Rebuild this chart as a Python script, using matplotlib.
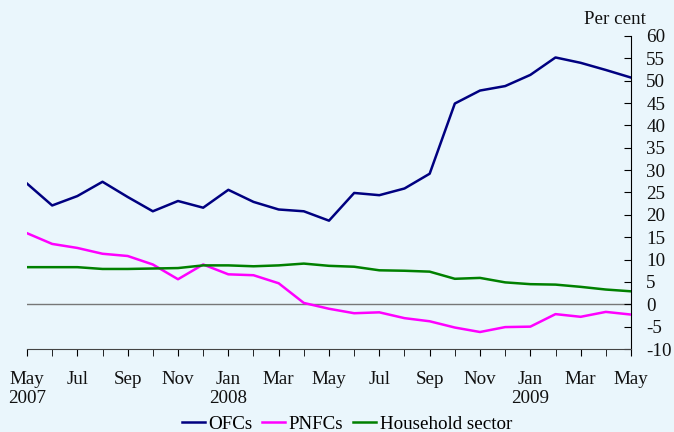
import matplotlib
matplotlib.use("Agg")
import matplotlib.pyplot as plt
import numpy as np

months = ["May", "Jun", "Jul", "Aug", "Sep", "Oct", "Nov", "Dec", "Jan", "Feb", "Mar", "Apr",
          "May", "Jun", "Jul", "Aug", "Sep", "Oct", "Nov", "Dec", "Jan", "Feb", "Mar", "Apr", "May"]
tick_labels = ["May\n2007", "Jul", "Sep", "Nov", "Jan\n2008", "Mar", "May", "Jul", "Sep",
               "Nov", "Jan\n2009", "Mar", "May"]

ofcs = [27.0, 22.1, 24.2, 27.4, 24.0, 20.8, 23.1, 21.6, 25.6, 22.9, 21.2, 20.8, 18.7,
        24.9, 24.4, 25.9, 29.2, 44.9, 47.8, 48.8, 51.3, 55.2, 54.0, 52.4, 50.7]
pnfcs = [15.9, 13.5, 12.6, 11.3, 10.8, 8.9, 5.6, 8.9, 6.7, 6.5, 4.7, 0.3, -1.0,
         -2.0, -1.8, -3.1, -3.8, -5.2, -6.2, -5.1, -5.0, -2.2, -2.8, -1.7, -2.3]
household = [8.3, 8.3, 8.3, 7.9, 7.9, 8.0, 8.1, 8.7, 8.7, 8.5, 8.7, 9.1, 8.6,
             8.4, 7.6, 7.5, 7.3, 5.7, 5.9, 4.9, 4.5, 4.4, 3.9, 3.3, 2.9]

bg = "#EAF6FC"
fs = 13.7
plt.rcParams["font.family"] = ["Liberation Serif", "DejaVu Serif"]
plt.rcParams["font.size"] = fs
plt.rcParams["axes.unicode_minus"] = False

fig = plt.figure(figsize=(6.74, 4.32), dpi=100, facecolor=bg)
ax = fig.add_axes([27/674, 1-349/432, (631-27)/674, (349-36)/432])
ax.set_facecolor(bg)

x = np.arange(len(months))
ax.axhline(0, color="#777777", lw=1.0, zorder=1)
ax.plot(x, ofcs, color="#000080", lw=1.8, label="OFCs", zorder=3)
ax.plot(x, pnfcs, color="#FF00FF", lw=1.8, label="PNFCs", zorder=3)
ax.plot(x, household, color="#008000", lw=1.8, label="Household sector", zorder=3)

ax.set_xlim(0, len(months) - 1)
ax.set_ylim(-10, 60)
ax.set_yticks(np.arange(-10, 61, 5))
ax.yaxis.tick_right()
ax.tick_params(axis="y", direction="in", length=5, pad=11, colors="black", labelcolor="#111111")
ax.set_xticks(x[::2])
ax.set_xticklabels(tick_labels, linespacing=1.1)
ax.set_xticks(x, minor=True)
ax.tick_params(axis="x", which="both", direction="out", length=5, pad=11, labelcolor="#111111")
for lab in ax.get_xticklabels():
    lab.set_verticalalignment("top")
    lab.set_multialignment("center")

ax.spines["top"].set_visible(False)
ax.spines["left"].set_visible(False)
ax.spines["right"].set_color("black")
ax.spines["bottom"].set_color("#444444")

fig.text(646/674, 1-20/432, "Per cent", ha="right", va="center", fontsize=fs, color="#111111")

fig.legend(loc="center", bbox_to_anchor=(347/674, 1-424/432), ncol=3, frameon=False,
           handlelength=1.2, handletextpad=0.2, columnspacing=0.5, fontsize=fs)

fig.savefig("out.png", dpi=100, facecolor=bg)
